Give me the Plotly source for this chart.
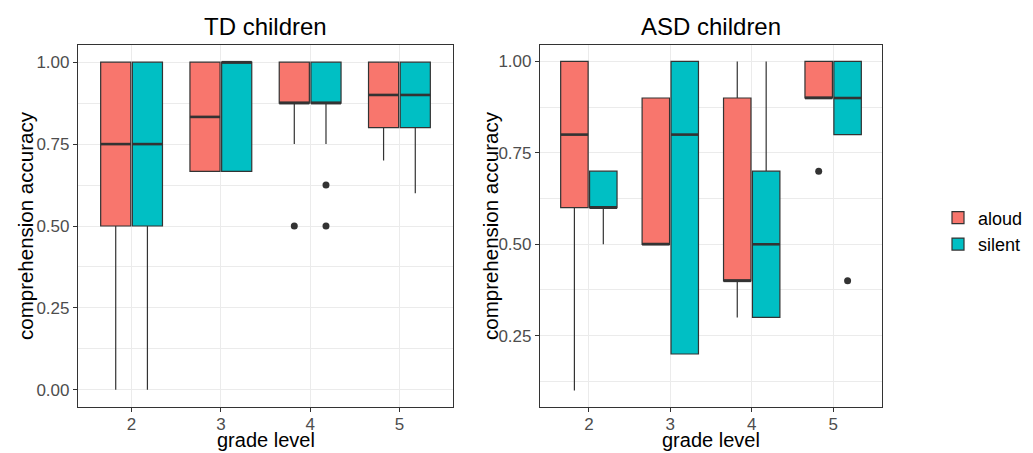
import plotly.graph_objects as go

# ---------------- data ----------------
grades = [2, 3, 4, 5]
tick_labels = ["2", "3", "4", "5"]

# TD children
td_aloud_q1 = [0.5, 0.667, 0.875, 0.8]
td_aloud_med = [0.75, 0.833, 0.875, 0.9]
td_aloud_q3 = [1.0, 1.0, 1.0, 1.0]
td_aloud_lo = [0.0, 0.667, 0.75, 0.7]
td_aloud_hi = [1.0, 1.0, 1.0, 1.0]
td_aloud_out_x = [4]
td_aloud_out_y = [0.5]

td_silent_q1 = [0.5, 0.667, 0.875, 0.8]
td_silent_med = [0.75, 1.0, 0.875, 0.9]
td_silent_q3 = [1.0, 1.0, 1.0, 1.0]
td_silent_lo = [0.0, 0.667, 0.75, 0.6]
td_silent_hi = [1.0, 1.0, 1.0, 1.0]
td_silent_out_x = [4, 4]
td_silent_out_y = [0.625, 0.5]

# ASD children
asd_aloud_q1 = [0.6, 0.5, 0.4, 0.9]
asd_aloud_med = [0.8, 0.5, 0.4, 0.9]
asd_aloud_q3 = [1.0, 0.9, 0.9, 1.0]
asd_aloud_lo = [0.1, 0.5, 0.3, 0.9]
asd_aloud_hi = [1.0, 0.9, 1.0, 1.0]
asd_aloud_out_x = [5]
asd_aloud_out_y = [0.7]

asd_silent_q1 = [0.6, 0.2, 0.3, 0.8]
asd_silent_med = [0.6, 0.8, 0.5, 0.9]
asd_silent_q3 = [0.7, 1.0, 0.7, 1.0]
asd_silent_lo = [0.5, 0.2, 0.3, 0.8]
asd_silent_hi = [0.7, 1.0, 1.0, 1.0]
asd_silent_out_x = [5]
asd_silent_out_y = [0.4]

# ---------------- style / layout ----------------
COL_ALOUD = "#F8766D"
COL_SILENT = "#00BFC4"
EDGE = "#333333"
GRID = "#EBEBEB"
FONT = "Liberation Sans, Arial, sans-serif"
BOXGAP = 0.29
GROUPGAP = 0.05

# page body has an 8px default margin -> figure drawn at (8, 8)
OFF = 8
WIN_W, WIN_H = 1033, 453
W, H = WIN_W - OFF, WIN_H - OFF
# plot region in window pixels
PL, PR, PT, PB = 78, 882, 45, 407
ML, MR, MT, MB = PL - OFF, WIN_W - PR, PT - OFF, WIN_H - PB
PW, PH = W - ML - MR, H - MT - MB


def px(xw):
    return (xw - PL) / PW


def py(yw):
    return 1 - (yw - PT) / PH


fig = go.Figure()


def add_boxes(name, color, q1, med, q3, lo, hi, xa, ya, show, side):
    fig.add_trace(go.Box(
        x=grades, q1=q1, median=med, q3=q3, lowerfence=lo, upperfence=hi,
        name=name, legendgroup=name, showlegend=show,
        fillcolor=color, line=dict(color=EDGE, width=1.2),
        whiskerwidth=0, boxpoints=False, hoverinfo="skip",
        xaxis=xa, yaxis=ya, offsetgroup=name,
    ))
    # thicker median bar (ggplot style)
    off = (1 - BOXGAP) / 4 * side
    half = (1 - BOXGAP) / 4 * (1 - GROUPGAP)
    mx, my = [], []
    for g, m in zip(grades, med):
        mx += [g + off - half, g + off + half, None]
        my += [m, m, None]
    fig.add_trace(go.Scatter(
        x=mx, y=my, mode="lines", line=dict(color=EDGE, width=2.6),
        showlegend=False, hoverinfo="skip", xaxis=xa, yaxis=ya,
    ))


def add_outliers(xs, ys, side, xa, ya):
    off = (1 - BOXGAP) / 4 * side
    fig.add_trace(go.Scatter(
        x=[x + off for x in xs], y=ys, mode="markers",
        marker=dict(color=EDGE, size=7), showlegend=False,
        hoverinfo="skip", xaxis=xa, yaxis=ya,
    ))


add_boxes("aloud", COL_ALOUD, td_aloud_q1, td_aloud_med, td_aloud_q3,
          td_aloud_lo, td_aloud_hi, "x", "y", True, -1)
add_boxes("silent", COL_SILENT, td_silent_q1, td_silent_med, td_silent_q3,
          td_silent_lo, td_silent_hi, "x", "y", True, 1)
add_boxes("aloud", COL_ALOUD, asd_aloud_q1, asd_aloud_med, asd_aloud_q3,
          asd_aloud_lo, asd_aloud_hi, "x2", "y2", False, -1)
add_boxes("silent", COL_SILENT, asd_silent_q1, asd_silent_med, asd_silent_q3,
          asd_silent_lo, asd_silent_hi, "x2", "y2", False, 1)

add_outliers(td_aloud_out_x, td_aloud_out_y, -1, "x", "y")
add_outliers(td_silent_out_x, td_silent_out_y, 1, "x", "y")
add_outliers(asd_aloud_out_x, asd_aloud_out_y, -1, "x2", "y2")
add_outliers(asd_silent_out_x, asd_silent_out_y, 1, "x2", "y2")

xdom1 = [0, px(453)]
xdom2 = [px(540), 1]

common_x = dict(
    range=[1.4, 5.6], tickvals=grades, ticktext=tick_labels,
    showgrid=True, gridcolor=GRID, gridwidth=1.1, zeroline=False,
    showline=True, linecolor=EDGE, linewidth=1.2, mirror=True,
    ticks="outside", ticklen=4, tickcolor=EDGE, tickwidth=1,
    ticklabelstandoff=-3,
    tickfont=dict(size=17, color="#4D4D4D", family=FONT),
    automargin=False,
)
common_y = dict(
    dtick=0.25, tick0=0, tickformat=".2f",
    showgrid=True, gridcolor=GRID, gridwidth=1.1, zeroline=False,
    showline=True, linecolor=EDGE, linewidth=1.2, mirror=True,
    ticks="outside", ticklen=4, tickcolor=EDGE, tickwidth=1,
    tickfont=dict(size=17, color="#4D4D4D", family=FONT),
    minor=dict(dtick=0.125, tick0=0, showgrid=True, gridcolor=GRID, gridwidth=0.6, ticks=""),
    automargin=False,
)


def text_ann(text, xw, yw, size, angle=0):
    return dict(text=text, x=px(xw), y=py(yw), xref="paper", yref="paper",
                showarrow=False, xanchor="center", yanchor="middle", textangle=angle,
                font=dict(size=size, color="black", family=FONT))


fig.update_layout(
    width=W, height=H,
    margin=dict(l=ML, r=MR, t=MT, b=MB, autoexpand=False),
    paper_bgcolor="white", plot_bgcolor="white",
    boxmode="group", boxgap=BOXGAP, boxgroupgap=GROUPGAP,
    font=dict(family=FONT),
    xaxis=dict(domain=xdom1, anchor="y", **common_x),
    yaxis=dict(domain=[0, 1], anchor="x", range=[-0.0525, 1.0525], **common_y),
    xaxis2=dict(domain=xdom2, anchor="y2", **common_x),
    yaxis2=dict(domain=[0, 1], anchor="x2", range=[0.055, 1.045], **common_y),
    legend=dict(x=px(938), y=py(231), xanchor="left", yanchor="middle",
                font=dict(size=18, color="black", family=FONT),
                bgcolor="rgba(0,0,0,0)", tracegroupgap=0, borderwidth=0),
    annotations=[
        text_ann("TD children", (PL + 453) / 2, 26, 24),
        text_ann("ASD children", (540 + PR) / 2, 26, 24),
        text_ann("grade level", (PL + 453) / 2, 440, 20),
        text_ann("grade level", (540 + PR) / 2, 440, 20),
        text_ann("comprehension accuracy", 25, 226, 20.5, -90),
        text_ann("comprehension accuracy", 490, 226, 20.5, -90),
    ],
)

fig.write_html("out.html")
